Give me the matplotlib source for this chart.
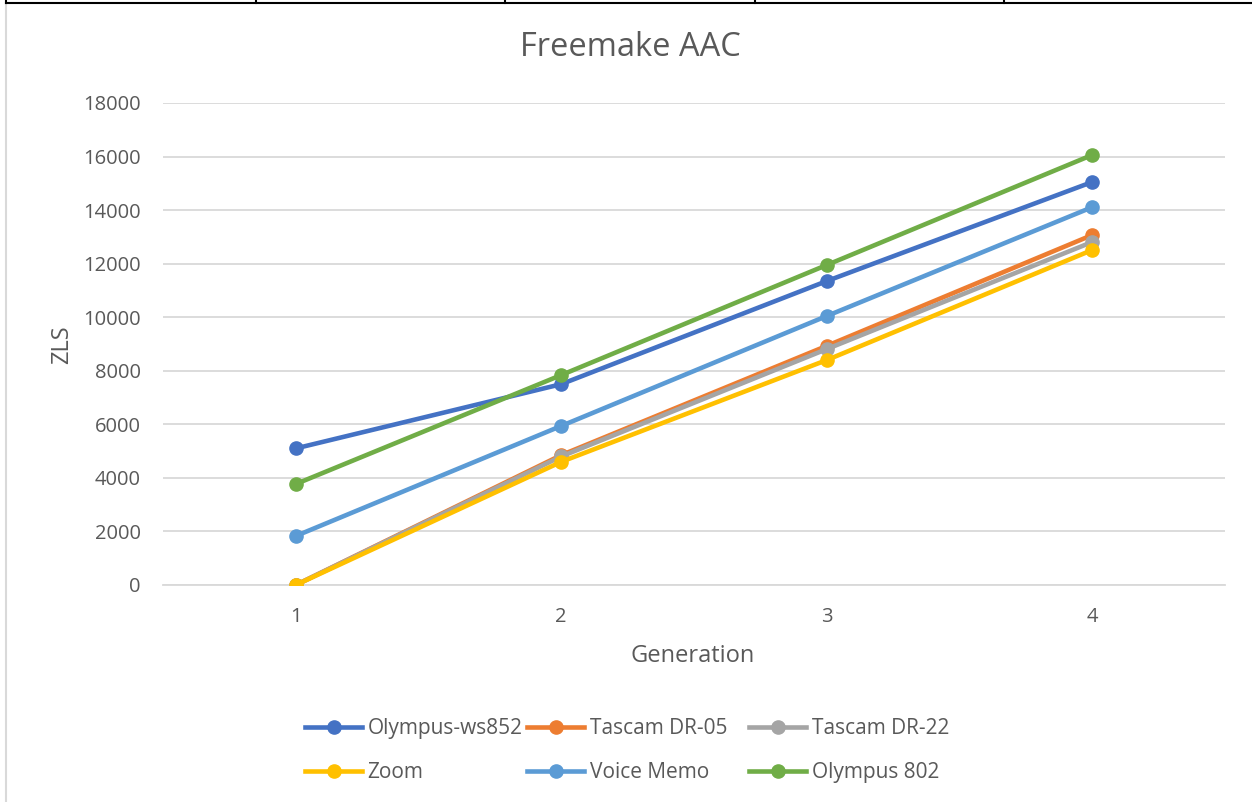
import matplotlib
matplotlib.use("Agg")
import matplotlib.pyplot as plt
from matplotlib.lines import Line2D

plt.rcParams['font.family'] = ['Open Sans', 'DejaVu Sans']

# ZLS per generation for each recorder
generations = [1, 2, 3, 4]
olympus_ws852 = [5100, 7500, 11350, 15050]
tascam_dr05 = [0, 4850, 8930, 13070]
tascam_dr22 = [0, 4800, 8810, 12810]
zoom = [0, 4600, 8400, 12510]
voice_memo = [1830, 5940, 10045, 14110]
olympus_802 = [3770, 7840, 11950, 16060]

series_names = ['Olympus-ws852', 'Tascam DR-05', 'Tascam DR-22',
                'Zoom', 'Voice Memo', 'Olympus 802']
series_values = [olympus_ws852, tascam_dr05, tascam_dr22,
                 zoom, voice_memo, olympus_802]
series_colors = ['#4472C4', '#ED7D31', '#A5A5A5', '#FFC000', '#5B9BD5', '#70AD47']

text_gray = '#595959'
W, H = 1252, 802

fig = plt.figure(figsize=(W / 100, H / 100), dpi=100)
ax = fig.add_axes([163 / W, 1 - 585 / H, (1225 - 163) / W, (585 - 103) / H])

for name, vals, col in zip(series_names, series_values, series_colors):
    ax.plot(generations, vals, color=col, linewidth=3.3, marker='o',
            markersize=9.5, label=name, solid_capstyle='round', zorder=3)

ax.set_xlim(0.5, 4.5)
ax.set_ylim(0, 18000)
ax.set_yticks(range(0, 18001, 2000))
ax.set_xticks(generations)
ax.tick_params(axis='both', length=0, labelsize=14.5, colors=text_gray)
ax.tick_params(axis='x', pad=16)
ax.tick_params(axis='y', pad=16)
ax.grid(axis='y', color='#D9D9D9', linewidth=1.3, zorder=0)
ax.set_axisbelow(True)
for s in ['top', 'right', 'left']:
    ax.spines[s].set_visible(False)
ax.spines['bottom'].set_color('#D9D9D9')
ax.spines['bottom'].set_linewidth(1.3)

ax.set_xlabel('Generation', fontsize=17, color=text_gray)
ax.xaxis.set_label_coords(693 / W, 1 - 656 / H, transform=fig.transFigure)
ax.xaxis.label.set_va('center')
ax.set_ylabel('ZLS', fontsize=17, color=text_gray)
ax.yaxis.set_label_coords(62 / W, 1 - 345 / H, transform=fig.transFigure)
ax.yaxis.label.set_va('center')
fig.text(630 / W, 1 - 48 / H, 'Freemake AAC', fontsize=23.5,
         color=text_gray, ha='center', va='center')

# legend below the plot: three equal-width columns, two rows
handles = [Line2D([], [], color=c, linewidth=3.3, marker='o', markersize=9.5)
           for c in series_colors]
col_x = [305, 527, 749]
for i, x in enumerate(col_x):
    leg = fig.legend([handles[i], handles[i + 3]],
                     [series_names[i], series_names[i + 3]],
                     loc='center left', bbox_to_anchor=(x / W, 1 - 750.5 / H),
                     frameon=False, fontsize=15, borderpad=0, borderaxespad=0,
                     handlelength=2.75, handletextpad=0.25, labelspacing=1.1)
    for t in leg.get_texts():
        t.set_color(text_gray)

# chart border and table lines above it
fig.add_artist(Line2D([6 / W, 6 / W], [0, 1 - 5 / H],
                      color='#D9D9D9', linewidth=1.5))
fig.add_artist(Line2D([6 / W, 1], [1 - 3 / H, 1 - 3 / H],
                      color='black', linewidth=1.5))
for x in [6, 256, 505, 755, 1004]:
    fig.add_artist(Line2D([x / W, x / W], [1 - 3 / H, 1],
                          color='black', linewidth=1.5))

fig.savefig('out.png', dpi=100)
